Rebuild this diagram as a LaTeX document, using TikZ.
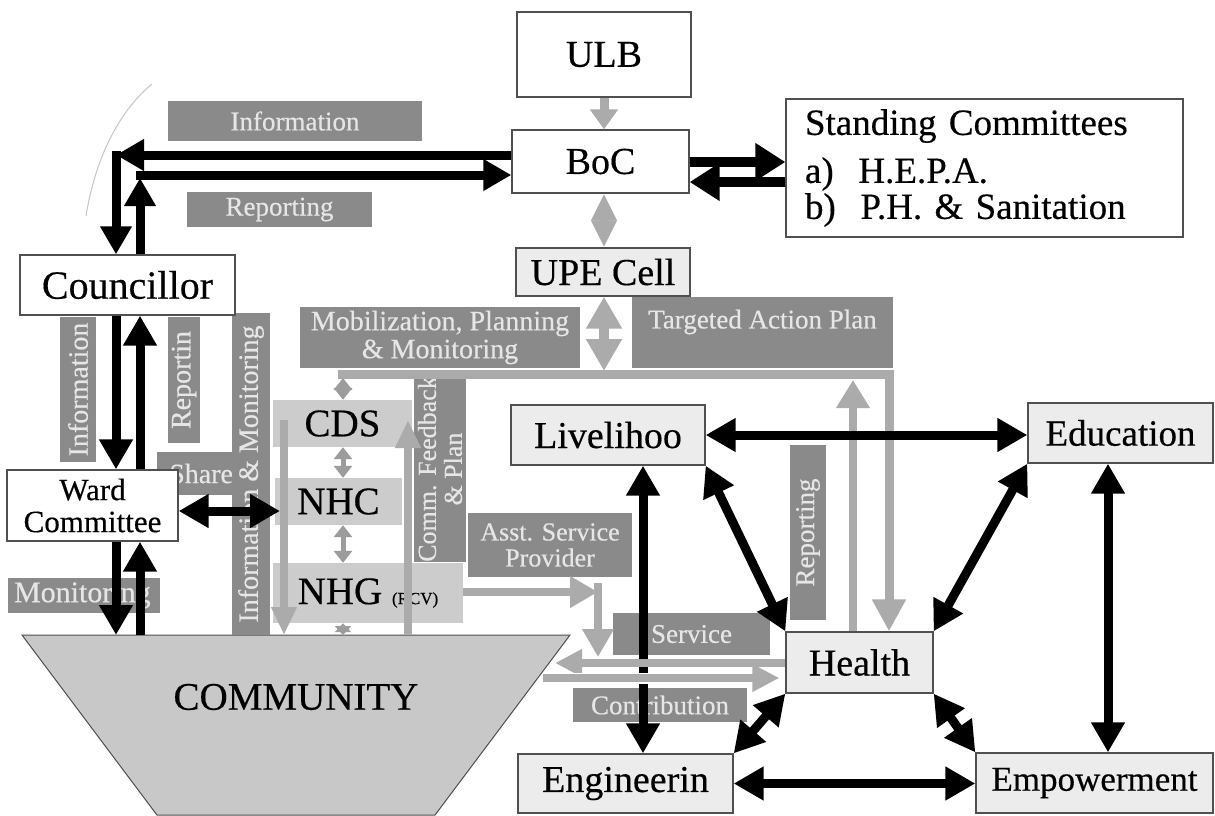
\documentclass[tikz,border=0pt]{standalone}
\usepackage{fontspec}
\setmainfont{Liberation Serif}[FakeBold=0.4]
\usetikzlibrary{arrows.meta}
\definecolor{lblgray}{HTML}{8A8A8A}
\definecolor{lbltxt}{HTML}{E6E6E6}
\definecolor{bandgray}{HTML}{CCCCCC}
\definecolor{arrgray}{HTML}{ABABAB}
\definecolor{midgray}{HTML}{9C9C9C}
\definecolor{commgray}{HTML}{C8C8C8}
\definecolor{boxfill}{HTML}{ECECEC}
\definecolor{edgegray}{HTML}{505050}
\newcommand{\myfs}[1]{\fontsize{#1}{#1}\selectfont}
\begin{document}
\begin{tikzpicture}[x=1pt,y=-1pt,
  box/.style={draw=edgegray, line width=1.3pt, fill=white, inner sep=0pt, font=\myfs{38}},
  gbox/.style={box, fill=boxfill},
  lbl/.style={fill=lblgray, text=lbltxt, inner sep=0pt, font=\myfs{27}, align=center},
  band/.style={fill=bandgray, inner sep=0pt, font=\myfs{39}},
  blkarr/.style={draw=black, line width=9pt, -{Triangle[length=30pt,width=32pt]}},
  blkdbl/.style={draw=black, line width=9pt, {Triangle[length=30pt,width=32pt]}-{Triangle[length=30pt,width=32pt]}},
  gryarr/.style={draw=arrgray, line width=8pt, -{Triangle[length=26pt,width=28pt]}},
  middbl/.style={draw=midgray, line width=5pt, {Triangle[length=12pt,width=18pt]}-{Triangle[length=12pt,width=18pt]}}
]
\fill[white] (0,0) rectangle (1215,815);
\useasboundingbox (0,0) rectangle (1215,815);

% faint arc
\draw[gray!45, line width=1pt] (152,84) .. controls (118,112) and (95,160) .. (86,216);

% community
\draw[fill=commgray, draw=edgegray, line width=1pt] (22,635) -- (570,635) -- (435,815) -- (157,815) -- cycle;
\node[font=\myfs{39}] (community) at (296,697) {COMMUNITY};
\coordinate (ctop) at (0,635);

% dark gray labels
\node[lbl, minimum width=254, minimum height=40] (infoT) at (295,121) {Information};
\node[lbl, minimum width=185, minimum height=35] (repT) at (279.5,209.5) {Reporting};
\node[lbl, rotate=90, minimum width=145, minimum height=36, font=\myfs{28}] (infoV) at (78,389.5) {Information};
\node[lbl, rotate=90, minimum width=126, minimum height=32, font=\myfs{28}] (repV) at (184,380) {Reportin};
\node[lbl, font=\myfs{28}, anchor=west, minimum height=43, text width=75pt, align=left] (share) at (157,473.5) {\hspace*{12pt}Share};
\node[lbl, rotate=90, minimum width=322, minimum height=38, font=\myfs{28}] (infoMon) at (251,474) {Information \& Monitoring};
\node[lbl, minimum width=152, minimum height=35, font=\myfs{30}, text width=148pt, align=left] (monit) at (84,595.5) {\hspace*{4pt}Monitoring};
\node[lbl, minimum width=280, minimum height=61, font=\myfs{28}] (mob) at (440,337.5) {Mobilization, Planning\\\& Monitoring};
\node[lbl, minimum width=261, minimum height=71] (tap) at (762.5,332.5) {};
\node[lbl, fill=none] (tapt) at (762.5,322) {Targeted Action Plan};
\node[lbl, rotate=90, minimum width=182, minimum height=52, font=\myfs{26}] (comm) at (440,469) {Comm. Feedback\\\& Plan};
\node[lbl, rotate=90, minimum width=175, minimum height=36] (repH) at (808,532.5) {Reporting};
\node[lbl, minimum width=164, minimum height=64, font=\myfs{26}] (asst) at (550,545) {Asst. Service\\Provider};
\node[lbl, minimum width=157, minimum height=42] (service) at (691.5,634) {Service};
\node[lbl, minimum width=174, minimum height=34] (contrib) at (660,705) {Contribution};

% light bands
\node[band, minimum width=139, minimum height=47] (cds) at (342.5,423.5) {CDS};
\node[band, minimum width=127, minimum height=47] (nhc) at (338.5,501.5) {NHC};
\node[band, minimum width=190, minimum height=60] (nhg) at (368,593) {NHG {\myfs{17}(RCV)}};

% boxes
\node[box, minimum width=174, minimum height=85] (ulb) at (604,54.5) {ULB};
\node[box, minimum width=177, minimum height=63] (boc) at (600.5,161.5) {BoC};
\node[box, minimum width=397, minimum height=138, text width=359pt, align=left, font=\myfs{37}] (sc) at (984.5,168)
  {Standing Committees\\[11pt] a)\ \ H.E.P.A.\\[-1pt] b)\ \ P.H. \& Sanitation};
\node[gbox, minimum width=174, minimum height=48] (upe) at (603,272) {UPE Cell};
\node[box, minimum width=215, minimum height=60, font=\myfs{40}] (councillor) at (127.5,285) {Councillor};
\node[box, minimum width=171, minimum height=71, font=\myfs{31}, align=center] (ward) at (92.5,505.5) {Ward\\[1pt]Committee};
\node[gbox, minimum width=194, minimum height=60] (liv) at (608,435) {Livelihoo};
\node[gbox, minimum width=185, minimum height=60, font=\myfs{37}] (edu) at (1120.5,433) {Education};
\node[gbox, minimum width=147, minimum height=61] (health) at (859.5,662.5) {Health};
\node[gbox, minimum width=237, minimum height=60, font=\myfs{35}] (emp) at (1094.5,783) {Empowerment};
\node[gbox, minimum width=215, minimum height=59] (eng) at (625.5,783.5) {Engineerin};

% gray arrows (top)
\draw[gryarr, line width=9pt, -{Triangle[length=20pt,width=27pt]}] (ulb.south) -- (ulb.south |- boc.north);
\draw[draw=arrgray, line width=8pt, {Triangle[length=27pt,width=24pt]}-{Triangle[length=27pt,width=24pt]}] (ulb.south |- boc.south) -- (ulb.south |- upe.north);
\coordinate (uf) at (604,371);
\draw[draw=arrgray, line width=10pt, {Triangle[length=32pt,width=34pt]}-{Triangle[length=32pt,width=34pt]}] (ulb.south |- upe.south) -- (uf);

% frame line to Health
\coordinate (fr1) at (338,374);
\coordinate (fr2) at (889,374);
\draw[gryarr, line width=9pt, -{Triangle[length=32pt,width=32pt]}] (fr1) -- (fr2) -- (fr2 |- health.north);
\coordinate (rp) at (853,380);
\draw[gryarr, -{Triangle[length=28pt,width=32pt]}] (rp |- health.north) -- (rp);

% CDS / NHC / NHG links
\coordinate (fc) at (343,378);
\draw[middbl] (fc) -- (fc |- cds.north);
\draw[middbl] (fc |- cds.south) -- (fc |- nhc.north);
\draw[middbl] (fc |- nhc.south) -- (fc |- nhg.north);
\draw[draw=midgray, line width=5pt, {Triangle[length=9pt,width=16pt]}-{Triangle[length=9pt,width=16pt]}] (fc |- nhg.south) -- (fc |- ctop);
\coordinate (ga) at (284,420);
\draw[gryarr, -{Triangle[length=28pt,width=24pt]}] (ga) -- (ga |- ctop);
\coordinate (gb) at (408,420);
\draw[gryarr, -{Triangle[length=28pt,width=24pt]}] (gb |- ctop) -- (gb);

% NHG -> service
\coordinate (ns) at (598,592);
\coordinate (ns2) at (598,657);
\coordinate (ns0) at (598,583);
\draw[gryarr, -{Triangle[length=28pt,width=30pt]}] (nhg.east |- ns) -- (ns);
\draw[gryarr, -{Triangle[length=28pt,width=30pt]}] (ns0) -- (ns2);

% left black arrows
\coordinate (c1) at (116,155);
\coordinate (c2) at (140,175);
\coordinate (xa) at (116,0);
\coordinate (xb) at (140,0);
\draw[blkarr, -{Triangle[length=28pt,width=30pt]}] ([yshift=6.5pt]boc.west) -- (c1);
\draw[blkarr, -{Triangle[length=28pt,width=30pt]}] ([yshift=4.5pt]c1) -- (c1 |- councillor.north);
\draw[blkarr, -{Triangle[length=28pt,width=30pt]}] (c2 |- councillor.north) -- ([yshift=-3pt]c2);
\draw[blkarr, -{Triangle[length=28pt,width=30pt]}] ([xshift=-4.5pt]c2) -- (c2 -| boc.west);
\draw[blkarr] (xa |- councillor.south) -- (xa |- ward.north);
\draw[blkarr] (xb |- ward.north) -- (xb |- councillor.south);
\draw[blkarr] (xa |- ward.south) -- (xa |- ctop);
\draw[blkarr] (xb |- ctop) -- (xb |- ward.south);
\coordinate (wn) at (280,511);
\draw[blkdbl] (ward.east |- wn) -- (wn);

% BoC <-> Standing Committees
\coordinate (s1) at (0,162);
\coordinate (s2) at (0,182);
\draw[blkarr, line width=10pt, -{Triangle[length=30pt,width=36pt]}] (boc.east |- s1) -- (sc.west |- s1);
\draw[blkarr, line width=10pt, -{Triangle[length=30pt,width=36pt]}] (sc.west |- s2) -- (boc.east |- s2);

% right network
\coordinate (lx) at (643,0);
\coordinate (ex) at (1108,0);
\draw[blkdbl] (liv.east) -- (liv.east -| edu.west);
\draw[blkdbl] (lx |- liv.south) -- (lx |- eng.north);
\draw[blkdbl] (liv.south east) -- (health.north west);
\draw[blkdbl] (edu.south west) -- (health.north east);
\draw[blkdbl] (ex |- edu.south) -- (ex |- emp.north);
\draw[blkdbl] (health.south west) -- (eng.north east);
\draw[blkdbl] (health.south east) -- (emp.north west);
\draw[blkdbl] (eng.east) -- (eng.east -| emp.west);

% community <-> health gray arrows
\coordinate (cl) at (555,663);
\coordinate (cr) at (543,678);
\draw[gryarr, -{Triangle[length=27pt,width=26pt]}] (health.west |- cl) -- (cl);
\draw[white, line width=11pt] (cr) -- ([xshift=-30pt]cr -| health.west);
\draw[gryarr, -{Triangle[length=27pt,width=26pt]}, shorten >=6pt] (cr) -- (cr -| health.west);
\end{tikzpicture}
\end{document}
